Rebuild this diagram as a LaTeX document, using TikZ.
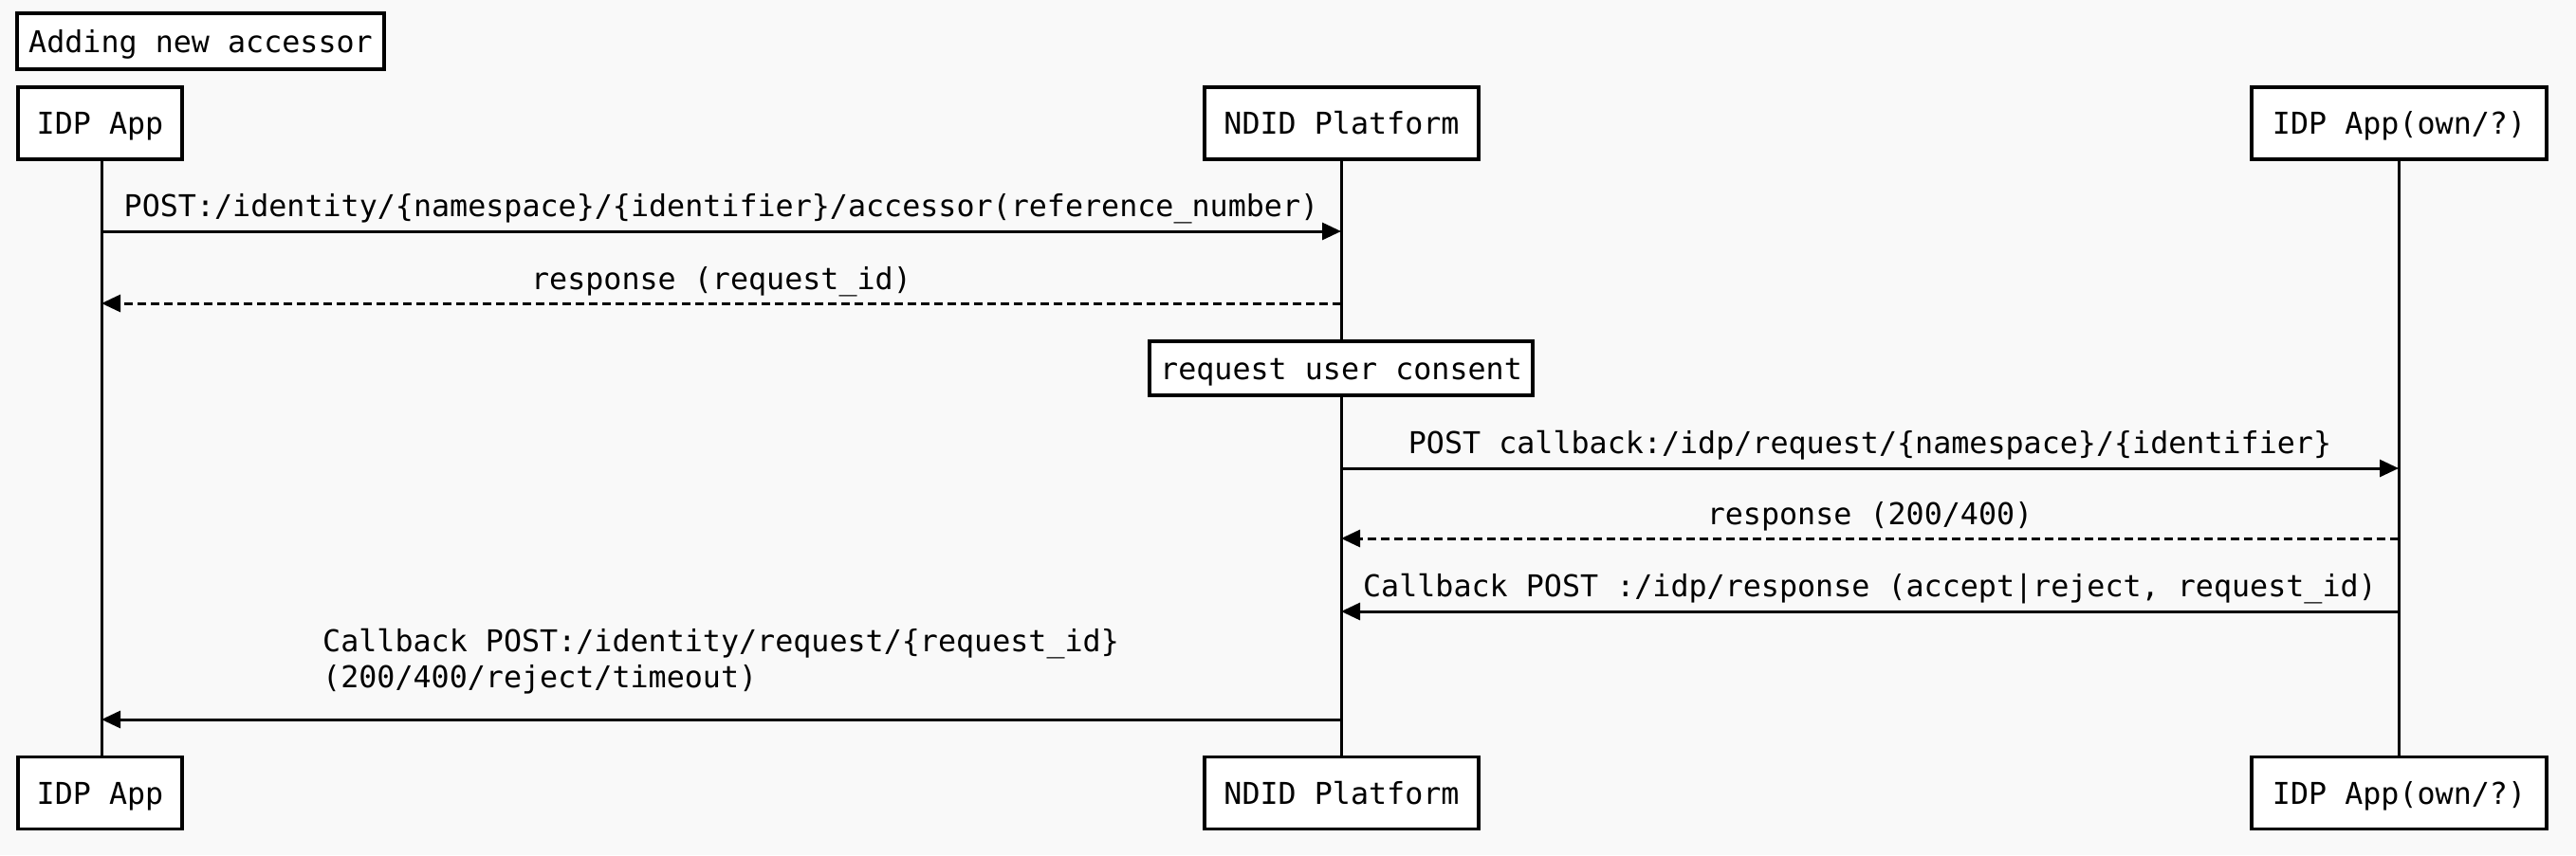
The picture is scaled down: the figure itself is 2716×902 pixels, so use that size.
\documentclass[tikz,border=0pt]{standalone}
\usepackage{fontspec}
\newfontfamily\mono{DejaVu Sans Mono}
\usetikzlibrary{arrows.meta}
\definecolor{bgc}{HTML}{F9F9F9}
\tikzset{
  boxtext/.style={inner sep=0pt, text height=23pt, text depth=0pt, font=\mono\fontsize{31.7}{38.5}\selectfont},
  actor/.style={boxtext, draw=black, line width=3.5pt, fill=white, minimum height=76pt},
  notebox/.style={boxtext, draw=black, line width=3.5pt, fill=white, minimum height=57pt},
  life/.style={line width=3pt},
  msg/.style={line width=3pt, -{Triangle[length=20pt,width=18pt]}},
  reply/.style={msg, dash pattern=on 9pt off 5pt},
  lbl/.style={inner sep=0pt, anchor=base, font=\mono\fontsize{31.7}{38.5}\selectfont},
}
\begin{document}
\begin{tikzpicture}[x=1pt,y=-1pt]
\useasboundingbox (0,0) rectangle (2716,902);
\fill[bgc] (0,0) rectangle (2716,902);

% lifelines
\coordinate (A0) at (107,168);
\coordinate (A1) at (107,798);
\coordinate (B0) at (1414,168);
\coordinate (B1) at (1414,798);
\coordinate (C0) at (2529,168);
\coordinate (C1) at (2529,798);
\draw[life] (A0) -- (A1);
\draw[life] (B0) -- (B1);
\draw[life] (C0) -- (C1);

% title
\node[notebox, minimum width=387pt, minimum height=59pt] (title) at (211.5,43.5) {Adding new accessor};

% actors
\node[actor, minimum width=173pt] (idpT) at (105.5,130) {IDP App};
\node[actor, minimum width=289pt] (ndidT) at (1414.5,130) {NDID Platform};
\node[actor, minimum width=311pt] (ownT) at (2529.5,130) {IDP App(own/?)};
\node[actor, minimum width=173pt] (idpB) at (105.5,836.5) {IDP App};
\node[actor, minimum width=289pt] (ndidB) at (1414.5,836.5) {NDID Platform};
\node[actor, minimum width=311pt] (ownB) at (2529.5,836.5) {IDP App(own/?)};

% note
\node[notebox, minimum width=404pt] (consent) at (1414,388.5) {request user consent};

% message anchor points
\coordinate (a1) at (107,244);  \coordinate (b1) at (1414,244);
\coordinate (a2) at (107,320);  \coordinate (b2) at (1414,320);
\coordinate (b4) at (1414,494); \coordinate (c4) at (2529,494);
\coordinate (b5) at (1414,568); \coordinate (c5) at (2529,568);
\coordinate (b6) at (1414,645); \coordinate (c6) at (2529,645);
\coordinate (a7) at (107,759);  \coordinate (b7) at (1414,759);

\draw[msg] (a1) -- (b1);
\node[lbl] (m1) at (760.5,228) {POST:/identity/\{namespace\}/\{identifier\}/accessor(reference\_number)};
\draw[reply] (b2) -- (a2);
\node[lbl] (m2) at (760.5,305) {response (request\_id)};
\draw[msg] (b4) -- (c4);
\node[lbl] (m4) at (1971.5,478) {POST callback:/idp/request/\{namespace\}/\{identifier\}};
\draw[reply] (c5) -- (b5);
\node[lbl] (m5) at (1971.5,553) {response (200/400)};
\draw[msg] (c6) -- (b6);
\node[lbl] (m6) at (1971.5,629) {Callback POST :/idp/response (accept|reject, request\_id)};
\draw[msg] (b7) -- (a7);
\node[lbl, anchor=base west] (m7a) at (340,687) {Callback POST:/identity/request/\{request\_id\}};
\node[lbl, anchor=base west] (m7b) at (340,725) {(200/400/reject/timeout)};
\end{tikzpicture}
\end{document}
